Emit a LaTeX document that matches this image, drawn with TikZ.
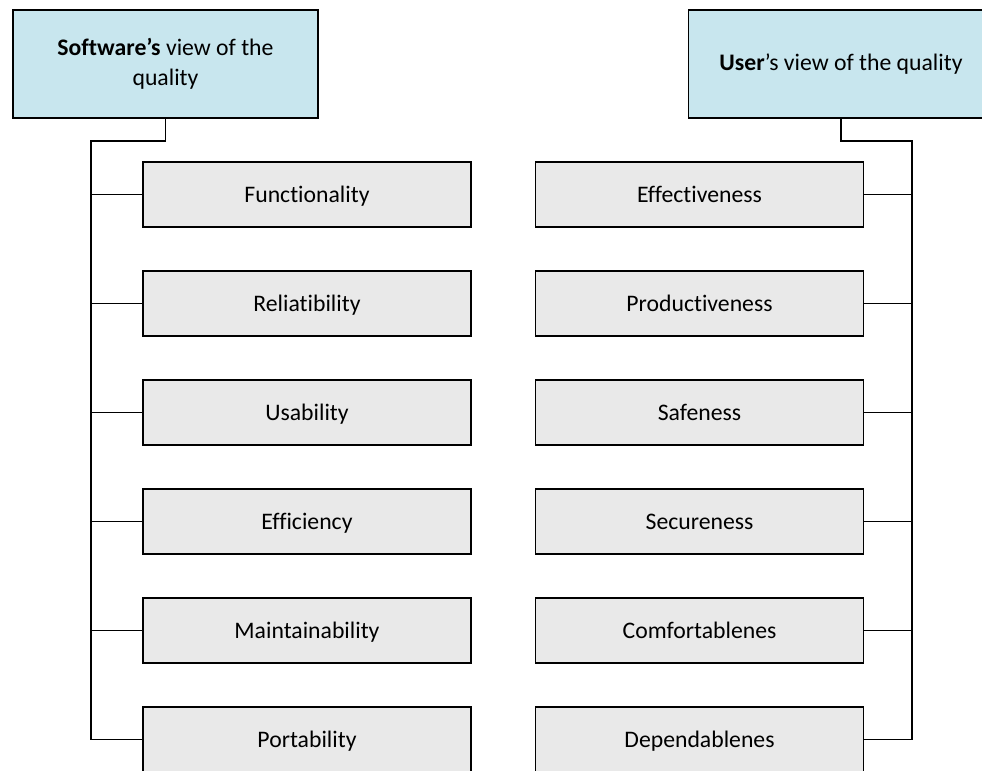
\documentclass[tikz,border=0pt]{standalone}
\usepackage{fontspec}
\setmainfont{Carlito}[Ligatures={NoCommon}]
\usepackage{tikz}
\usetikzlibrary{calc}

\definecolor{viewblue}{RGB}{200,230,238}
\definecolor{itemgray}{RGB}{233,233,233}

\begin{document}
\begin{tikzpicture}[x=0.02cm,y=-0.02cm,line width=1pt,font=\fontsize{13.5}{17}\selectfont]
  \tikzset{
    view/.style={draw, rectangle, fill=viewblue, inner sep=0pt, minimum width=6.1cm, minimum height=2.16cm, align=center},
    item/.style={draw, rectangle, fill=itemgray, inner sep=0pt, text height=12pt, text depth=3pt, minimum width=6.56cm, minimum height=1.3cm}
  }
  \clip (0,0) rectangle (982,770);

  % the two views
  \node[view] (sw) at (165.5,64) {\textbf{Software’s} view of the\\quality};
  \node[view] (us) at (841,64) {\textbf{User}’s view of the quality};

  % software side
  \node[item] (func) at (307,194.5) {Functionality};
  \node[item] (reli) at (307,303.5) {Reliatibility};
  \node[item] (usab) at (307,412.5) {Usability};
  \node[item] (effi) at (307,521.5) {Efficiency};
  \node[item] (main) at (307,630.5) {Maintainability};
  \node[item] (port) at (307,739.5) {Portability};

  % user side
  \node[item] (effe) at (699.5,194.5) {Effectiveness};
  \node[item] (prod) at (699.5,303.5) {Productiveness};
  \node[item] (safe) at (699.5,412.5) {Safeness};
  \node[item] (secu) at (699.5,521.5) {Secureness};
  \node[item] (comf) at (699.5,630.5) {Comfortablenes};
  \node[item] (depe) at (699.5,739.5) {Dependablenes};

  \coordinate (lbus) at (91,141);
  \coordinate (rbus) at (912,141);

  \draw (sw.south) |- (lbus) -- (lbus |- port.west) -- (port.west);
  \draw (lbus |- func.west) -- (func.west);
  \draw (lbus |- reli.west) -- (reli.west);
  \draw (lbus |- usab.west) -- (usab.west);
  \draw (lbus |- effi.west) -- (effi.west);
  \draw (lbus |- main.west) -- (main.west);

  \draw (us.south) |- (rbus) -- (rbus |- depe.east) -- (depe.east);
  \draw (rbus |- effe.east) -- (effe.east);
  \draw (rbus |- prod.east) -- (prod.east);
  \draw (rbus |- safe.east) -- (safe.east);
  \draw (rbus |- secu.east) -- (secu.east);
  \draw (rbus |- comf.east) -- (comf.east);
\end{tikzpicture}
\end{document}
